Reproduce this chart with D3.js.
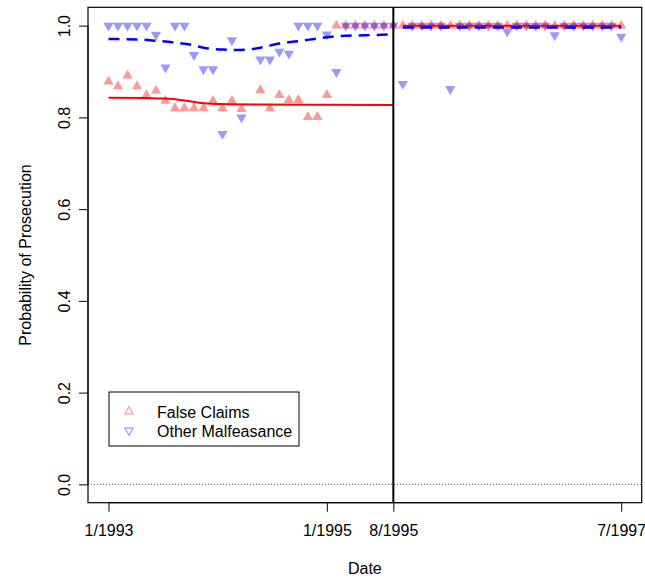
<!DOCTYPE html>
<html>
<head>
<meta charset="utf-8">
<script src="https://cdn.jsdelivr.net/npm/d3@7"></script>
<style>
  body { margin: 0; background: #fff; }
  text { font-family: "Liberation Sans", Arial, sans-serif; }
</style>
</head>
<body>
<svg id="chart"></svg>
<script>
// monthly observations, index 0 = 1/1993 ... 54 = 7/1997 (15 has no data)
let falseClaims = [0.878, 0.868, 0.891, 0.868, 0.849, 0.858, 0.836, 0.820, 0.820, 0.820,
  0.820, 0.836, 0.820, 0.836, 0.818, null, 0.859, 0.820, 0.849, 0.838,
  0.838, 0.801, 0.801, 0.849, 1, 1, 1, 1, 1, 1,
  1, 1, 1, 1, 1, 1, 1, 1, 1, 1,
  1, 1, 1, 1, 1, 1, 1, 1, 1, 1,
  1, 1, 1, 1, 1];
let otherMalfeasance = [1, 1, 1, 1, 1, 0.980, 0.909, 1, 1, 0.936,
  0.905, 0.905, 0.764, 0.968, 0.800, null, 0.926, 0.926, 0.943, 0.939,
  1, 1, 1, 0.981, 0.899, 1, 1, 1, 1, 1,
  1, 0.873, 1, 1, 1, 1, 0.862, 1, 1, 1,
  1, 1, 0.987, 1, 1, 1, 1, 0.979, 1, 1,
  1, 1, 1, 1, 0.976];

// smoothed fits, [index, value], before and after the 8/1995 break
let fitClaimsBefore = [[0, 0.843], [4, 0.842], [6, 0.841], [8, 0.837], [10, 0.831], [12, 0.829], [16, 0.828], [30, 0.827]];
let fitClaimsAfter = [[31, 1.0], [54, 1.0]];
let fitOtherBefore = [[0, 0.971], [3, 0.970], [5, 0.967], [7, 0.963], [9, 0.957], [10, 0.952], [12, 0.948], [14, 0.947],
  [16, 0.952], [18, 0.961], [20, 0.966], [22, 0.972], [24, 0.977], [27, 0.979], [30, 0.981]];
let fitOtherAfter = [[31, 0.996], [54, 0.996]];

let breakIdx = 30;
let xTickIdx = [0, 23, 30, 54];
let xTickLabels = ['1/1993', '1/1995', '8/1995', '7/1997'];
let yTicks = [0, 0.2, 0.4, 0.6, 0.8, 1.0];
let seriesNames = ['False Claims', 'Other Malfeasance'];

let w = 645, h = 580;
let pLeft = 88, pRight = 641.7, pTop = 7.3, pBottom = 502.7;
let fontSize = 16;

let chart = d3.select('#chart').attr('width', w).attr('height', h);

// R style 4% padding around the data range
let xScale = d3.scaleLinear().domain([-2.16, 56.16]).range([pLeft, pRight]);
let yScale = d3.scaleLinear().domain([-0.04, 1.04]).range([pBottom, pTop]);

let red = 'rgba(255,0,0,0.4)';
let blue = 'rgba(0,0,255,0.4)';
let tri = d3.symbol().type(d3.symbolTriangle).size(46);

// dotted zero line
chart.append('line')
  .attr('x1', pLeft).attr('x2', pRight)
  .attr('y1', yScale(0)).attr('y2', yScale(0))
  .attr('stroke', '#555').attr('stroke-width', 1)
  .attr('stroke-dasharray', '1,2');

// points
chart.append('g').selectAll('path')
  .data(falseClaims.map((v, i) => [i, v]).filter((d) => d[1] != null))
  .enter()
  .append('path')
  .attr('d', tri)
  .attr('transform', (d) => `translate(${xScale(d[0])},${yScale(d[1])})`)
  .attr('fill', red);

chart.append('g').selectAll('path')
  .data(otherMalfeasance.map((v, i) => [i, v]).filter((d) => d[1] != null))
  .enter()
  .append('path')
  .attr('d', tri)
  .attr('transform', (d) => `translate(${xScale(d[0])},${yScale(d[1])}) rotate(180)`)
  .attr('fill', blue);

// fitted lines
let line = d3.line()
  .x((d) => xScale(d[0]))
  .y((d) => yScale(d[1]))
  .curve(d3.curveMonotoneX);

[fitClaimsBefore, fitClaimsAfter].forEach((f) => {
  chart.append('path').attr('d', line(f))
    .attr('fill', 'none').attr('stroke', 'red').attr('stroke-width', 2);
});
[fitOtherBefore, fitOtherAfter].forEach((f) => {
  chart.append('path').attr('d', line(f))
    .attr('fill', 'none').attr('stroke', 'blue').attr('stroke-width', 2.5)
    .attr('stroke-dasharray', '11,7');
});

// break line
chart.append('line')
  .attr('x1', xScale(breakIdx)).attr('x2', xScale(breakIdx))
  .attr('y1', pTop).attr('y2', pBottom)
  .attr('stroke', '#000').attr('stroke-width', 2);

// frame
chart.append('rect')
  .attr('x', pLeft).attr('y', pTop)
  .attr('width', pRight - pLeft).attr('height', pBottom - pTop)
  .attr('fill', 'none').attr('stroke', '#000').attr('stroke-width', 1.2);

// AXES
let xAxis = chart.append('g')
  .attr('transform', `translate(0, ${pBottom})`)
  .call(d3.axisBottom(xScale)
    .tickValues(xTickIdx)
    .tickFormat((d, i) => xTickLabels[i])
    .tickSize(9).tickPadding(13).tickSizeOuter(0));
xAxis.select('.domain').attr('d', `M${xScale(xTickIdx[0])},0H${xScale(xTickIdx[xTickIdx.length - 1])}`);
xAxis.selectAll('text').attr('font-size', fontSize).attr('font-family', '"Liberation Sans", Arial, sans-serif').attr('fill', '#000');

let yAxis = chart.append('g')
  .attr('transform', `translate(${pLeft}, 0)`)
  .call(d3.axisLeft(yScale).tickValues(yTicks).tickFormat(d3.format('.1f')).tickSize(9).tickSizeOuter(0));
yAxis.select('.domain').attr('d', `M0,${yScale(0)}V${yScale(1)}`);
yAxis.selectAll('.tick text')
  .attr('font-size', fontSize).attr('font-family', '"Liberation Sans", Arial, sans-serif').attr('fill', '#000')
  .attr('text-anchor', 'middle')
  .attr('x', 0).attr('dy', 0)
  .attr('transform', 'translate(-24,0) rotate(-90) translate(0,6)');

// axis titles
chart.append('text')
  .attr('x', (pLeft + pRight) / 2).attr('y', 574)
  .attr('text-anchor', 'middle').attr('font-size', fontSize)
  .text('Date');
chart.append('text')
  .attr('transform', `translate(31, ${(pTop + pBottom) / 2}) rotate(-90)`)
  .attr('text-anchor', 'middle').attr('font-size', fontSize)
  .text('Probability of Prosecution');

// legend
let legend = chart.append('g');
legend.append('rect')
  .attr('x', 109).attr('y', 392)
  .attr('width', 190).attr('height', 54)
  .attr('fill', '#fff').attr('stroke', '#000').attr('stroke-width', 1);
let legendTri = d3.symbol().type(d3.symbolTriangle).size(30);
seriesNames.forEach((name, i) => {
  let yy = 411.5 + i * 19;
  legend.append('path')
    .attr('d', legendTri)
    .attr('transform', `translate(129, ${yy}) rotate(${i === 0 ? 0 : 180})`)
    .attr('fill', 'none')
    .attr('stroke', i === 0 ? red : blue).attr('stroke-width', 1.2);
  legend.append('text')
    .attr('x', 157).attr('y', yy + 6)
    .attr('font-size', fontSize)
    .text(name);
});
</script>
</body>
</html>
